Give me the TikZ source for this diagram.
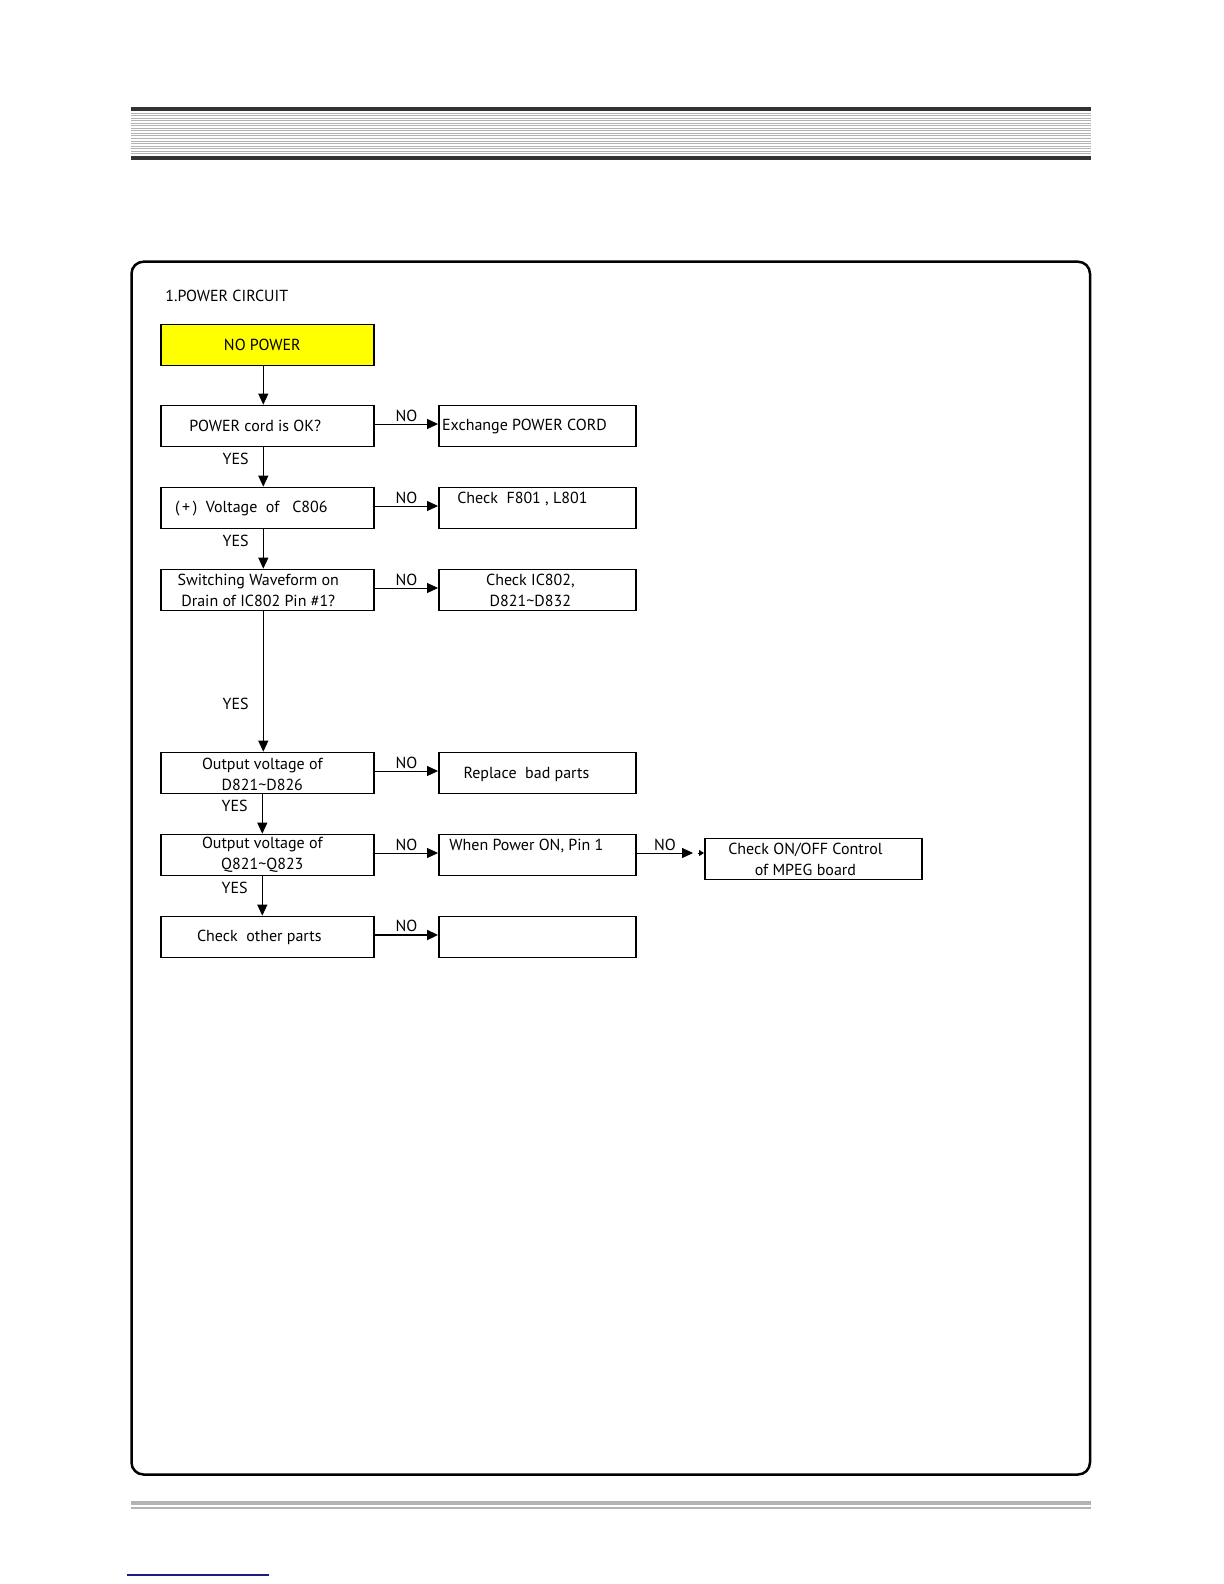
\documentclass[tikz,border=0pt]{standalone}
\usepackage{fontspec}
\setmainfont{PT Sans}
\usetikzlibrary{positioning,arrows.meta}
\usepackage{xcolor}

\definecolor{hdrdark}{HTML}{333333}
\definecolor{hdrgray}{HTML}{B3B3B3}
\definecolor{boxyellow}{HTML}{FFFF00}
\definecolor{linkblue}{HTML}{1A1A8C}
\newcommand\fcfont{\fontsize{8}{10.4}\selectfont}

\tikzset{
  box/.style={draw, line width=0.85pt, minimum width=106.5pt, minimum height=20.5pt, inner sep=0pt},
  rbox/.style={box, minimum width=98.5pt},
  every label/.style={font=\fcfont, align=center, inner sep=0pt},
  arr/.style={line width=0.5pt, -{Triangle[length=5.5pt,width=5pt]}},
  yes/.style={left, xshift=-3.7pt, font=\fcfont},
  no/.style={above, inner sep=1pt, font=\fcfont},
}

\begin{document}
\begin{tikzpicture}[x=0.5pt,y=-0.5pt]
\useasboundingbox (0,0) rectangle (1224,1584);

% header bar
\fill[hdrdark] (131,107) rectangle (1091,111);
\foreach \y in {113.5,116,...,154.5}
  \draw[hdrgray, line width=0.5pt] (131,\y) -- (1091,\y);
\fill[hdrdark] (131,156) rectangle (1091,160);

% frame
\draw[line width=1.25pt, rounded corners=6pt] (131.5,261.7) rectangle (1090,1474.5);
\node[anchor=west, inner sep=0pt, font=\fcfont] (title) at (165,296) {1.POWER CIRCUIT};

% left column
\node[box, fill=boxyellow, label={[shift={(-5,0)}]center:{NO POWER}}] (nopower) at (267.3,345) {};
\node[box, label={[shift={(-12,0)}]center:{POWER cord is OK?}}] (cord) at (267.3,426) {};
\node[box, label={[shift={(-16,1)}]center:{(\,+\,)~ Voltage~ of~~ C806}}] (volt) at (267.3,508) {};
\node[box, label={[shift={(-9,0)}]center:{Switching Waveform on\\Drain of IC802 Pin \#1?}}] (wave) at (267.3,590) {};
\node[box, label={[shift={(-5,1)}]center:{Output voltage of\\D821\textasciitilde D826}}] (outd) at (267.3,773) {};
\node[box, label={[shift={(-5,0)}]center:{Output voltage of\\Q821\textasciitilde Q823}}] (outq) at (267.3,855) {};
\node[box, label={[shift={(-8,0)}]center:{Check~ other parts}}] (other) at (267.3,937) {};

% right column
\node[rbox, label={[shift={(-13,0)}]center:{Exchange POWER CORD}}] (exch) at (537.4,426) {};
\node[rbox, label={[shift={(-15,-9)}]center:{Check~ F801 , L801}}] (fuse) at (537.4,508) {};
\node[rbox, label={[shift={(-7,0)}]center:{Check IC802,\\D821\textasciitilde D832}}] (icchk) at (537.4,590) {};
\node[rbox, label={[shift={(-11,1)}]center:{Replace~ bad parts}}] (repl) at (537.4,773) {};
\node[rbox, label={[shift={(-11,-9)}]center:{When Power ON, Pin 1}}] (pin1) at (537.4,855) {};
\node[rbox] (blank) at (537.4,937) {};
\node[box, minimum width=108.5pt, label={[shift={(-8,0)}]center:{Check ON/OFF Control\\of MPEG board}}] (onoff) at (813.4,859) {};

% yes arrows
\draw[arr] ([xshift=-2pt]nopower.south) -- ([xshift=-2pt]cord.north);
\draw[arr] ([xshift=-2pt]cord.south) -- node[yes, pos=0.3] {YES} ([xshift=-2pt]volt.north);
\draw[arr] ([xshift=-2pt]volt.south) -- node[yes, pos=0.3] {YES} ([xshift=-2pt]wave.north);
\draw[arr] ([xshift=-2pt]wave.south) -- node[yes, pos=0.66] {YES} ([xshift=-2pt]outd.north);
\draw[arr] ([xshift=-2.5pt]outd.south) -- node[yes, pos=0.3] {YES} ([xshift=-2.5pt]outq.north);
\draw[arr] ([xshift=-2.5pt]outq.south) -- node[yes, pos=0.3] {YES} ([xshift=-2.5pt]other.north);

% no arrows
\draw[arr] ([yshift=1pt]cord.east) -- node[no] {NO} ([yshift=1pt]exch.west);
\draw[arr] ([yshift=1pt]volt.east) -- node[no] {NO} ([yshift=1pt]fuse.west);
\draw[arr] ([yshift=1pt]wave.east) -- node[no] {NO} ([yshift=1pt]icchk.west);
\draw[arr] ([yshift=1pt]outd.east) -- node[no] {NO} ([yshift=1pt]repl.west);
\draw[arr] ([yshift=1pt]outq.east) -- node[no] {NO} ([yshift=1pt]pin1.west);
\draw[arr, line width=1pt] ([yshift=1pt]other.east) -- node[no] {NO} ([yshift=1pt]blank.west);
\draw[arr] ([yshift=1pt]pin1.east) -- node[no] {NO} ([xshift=-5.5pt,yshift=1pt]onoff.west |- pin1.east);
\draw[line width=0.5pt, -{Triangle[length=2.5pt,width=3pt]}] ([xshift=-3pt,yshift=1pt]onoff.west |- pin1.east) -- ([yshift=1pt]onoff.west |- pin1.east);

% footer
\fill[hdrgray] (131,1501) rectangle (1091,1505);
\fill[hdrgray] (131,1506.7) rectangle (1091,1508.7);
\draw[linkblue, line width=0.6pt] (126.7,1575) -- (269,1575);

\end{tikzpicture}
\end{document}
